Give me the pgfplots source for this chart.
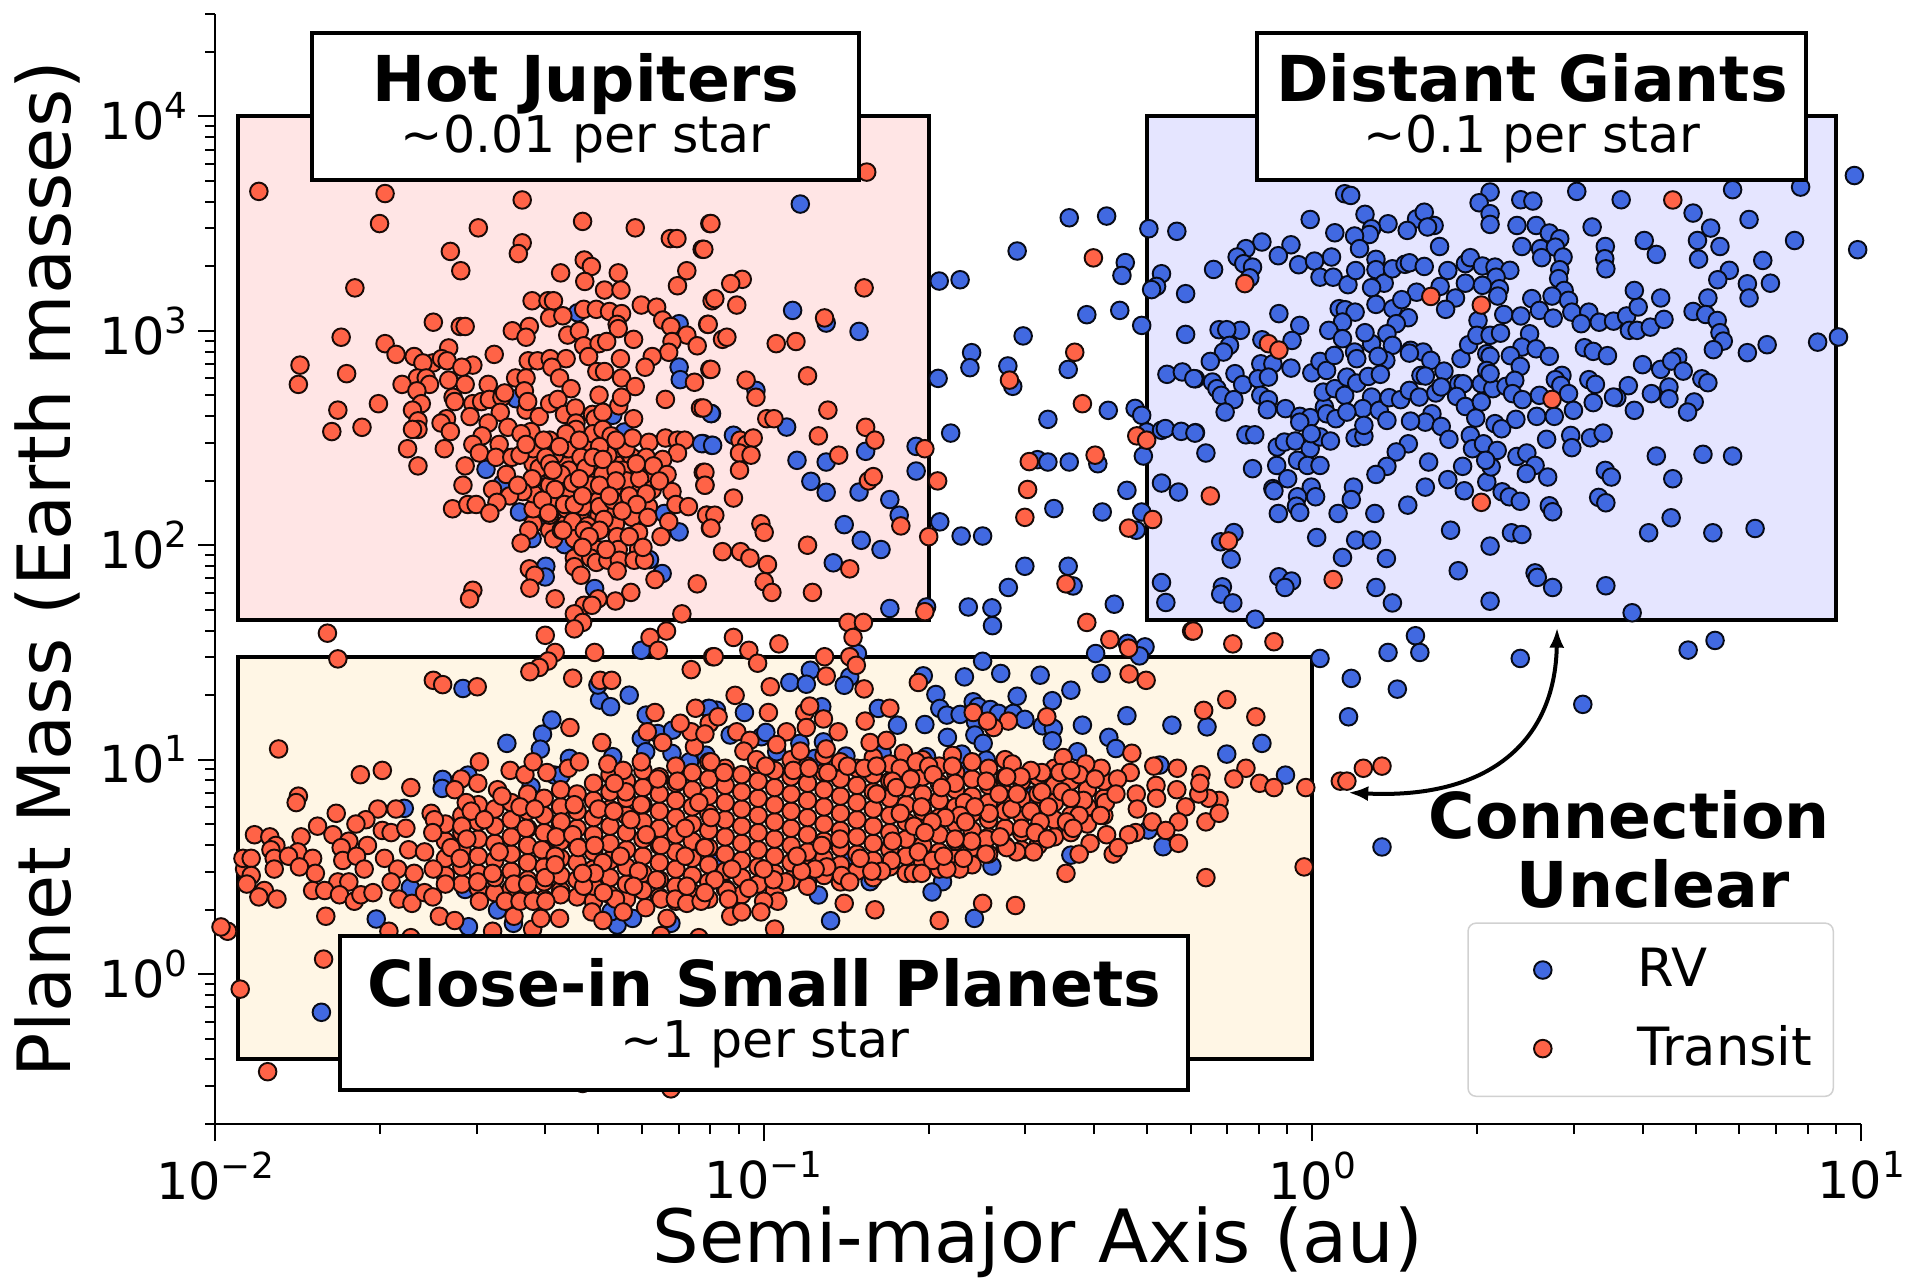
\documentclass[border=0pt]{standalone}
\usepackage{fontspec}
\setmainfont{DejaVu Sans}
\usepackage{pgfplots}
\pgfplotsset{compat=1.18}
\usetikzlibrary{arrows.meta}
\definecolor{rv}{RGB}{65,105,225}
\definecolor{tr}{RGB}{255,99,71}
\definecolor{ov}{RGB}{255,165,0}
\newcommand\tk[1]{10\raisebox{.41em}{\fontsize{10.2}{12}\selectfont #1}}
\begin{document}
\begin{tikzpicture}
\path[use as bounding box] (0,0) rectangle (19.11cm,-12.81cm);
\begin{axis}[
  at={(2.15cm,-11.24cm)}, anchor=south west, scale only axis,
  width=16.46cm, height=11.10cm,
  xmode=log, ymode=log, xmin=0.01, xmax=10, ymin=0.2, ymax=30000,
  axis x line*=bottom, axis y line*=left, axis line style={-,line width=.02cm,black},
  tick align=outside, major tick length=.17cm, minor tick length=.1cm,
  every tick/.style={black,line width=.02cm},
  xtick={0.01,0.1,1,10}, xticklabels={\tk{−2},\tk{−1},\tk{0},\tk{1}},
  ytick={1,10,100,1000,10000}, yticklabels={\tk{0},\tk{1},\tk{2},\tk{3},\tk{4}},
  minor xtick={0.02,0.03,0.04,0.05,0.06,0.07,0.08,0.09,0.2,0.3,0.4,0.5,0.6,0.7,0.8,0.9,2,3,4,5,6,7,8,9},
  minor ytick={0.2,0.3,0.4,0.5,0.6,0.7,0.8,0.9,2,3,4,5,6,7,8,9,20,30,40,50,60,70,80,90,200,300,400,500,600,700,800,900,2000,3000,4000,5000,6000,7000,8000,9000,20000,30000},
  tick label style={font=\fontsize{14.5}{18}\selectfont},
  yticklabel style={inner sep=0pt,xshift=-.1cm},
  xticklabel style={inner sep=0pt,yshift=-.1cm},
  xlabel={Semi-major Axis (au)}, ylabel={Planet Mass (Earth masses)},
  every axis x label/.style={at={(axis description cs:0.5,-0.125)},anchor=base,font=\fontsize{20.9}{24}\selectfont},
  every axis y label/.style={at={(axis description cs:-0.0877,0.5)},anchor=base,rotate=90,font=\fontsize{20.9}{24}\selectfont},
  legend style={at={(0.9836,0.0243)},anchor=south east,draw=black!18,line width=.015cm,rounded corners=.08cm,
    font=\fontsize{15}{18}\selectfont,inner xsep=.14cm,inner ysep=.18cm,row sep=.2cm},
  legend cell align=left,
  legend image code/.code={\draw[#1] plot coordinates {(0.6cm,0cm)};\path (0cm,0cm) (1.47cm,0cm);},
  clip=true,
]
\addplot[only marks,mark=*,mark size=2.5pt,mark options={draw=black!90!rv,fill=rv,line width=.55pt}]
 table[x expr=10^(\thisrow{lx}),y expr=10^(\thisrow{ly})]{
lx ly
.988 3.724
.994 3.378
.959 2.971
.921 2.947
.059 3.639
.07 3.631
.324 3.647
.304 3.597
.38 3.611
.402 3.605
.482 3.65
.563 3.611
.766 3.658
.89 3.67
.694 3.549
.796 3.519
.726 3.479
.702 3.421
.879 3.421
.743 3.393
.704 3.334
.821 3.328
.76 3.282
.739 3.238
.793 3.219
.835 3.222
.796 3.153
.721 3.153
.635 3.153
.694 3.09
.717 3.076
.738 3.048
.743 2.991
.749 2.952
.731 2.912
.793 2.898
.829 2.935
-.004 3.519
.096 3.543
.19 3.522
.204 3.553
.222 3.491
.21 3.484
.173 3.468
.138 3.499
.108 3.476
.104 3.449
.077 3.442
.041 3.457
-.092 3.414
-.039 3.401
-.121 3.383
-.137 3.344
-.062 3.35
-.125 3.313
-.109 3.297
-.18 3.286
-.114 3.247
-.025 3.308
.004 3.325
.035 3.344
.086 3.383
.014 3.25
.038 3.25
.065 3.215
.079 3.281
.116 3.333
.116 3.285
.131 3.222
.108 3.201
.146 3.289
.169 3.31
.177 3.317
.204 3.3
.232 3.393
.247 3.281
.233 3.207
.19 3.18
.261 3.153
.243 3.1
.279 3.313
.288 3.341
.31 3.302
.333 3.297
.36 3.282
.335 3.25
.279 3.222
.31 3.212
.341 3.196
.338 3.162
.324 3.546
.324 3.496
.373 3.491
.408 3.491
.432 3.456
.451 3.429
.382 3.393
.416 3.383
.443 3.39
.418 3.341
.457 3.344
.451 3.285
.449 3.243
.459 3.188
.437 3.162
.467 3.142
.4 3.15
.414 3.095
.349 3.076
.38 3.069
.439 3.059
.473 3.087
.504 3.087
.49 3.033
.523 3.04
.549 3.045
.573 3.069
.594 3.111
.587 3.188
.578 3.002
.592 3.002
.616 3.017
.641 3.053
.51 3.484
.534 3.393
.533 3.336
.535 3.289
.605 3.421
.627 3.356
.116 3.123
.147 3.103
.163 3.145
.175 3.061
.153 3.033
.136 2.986
.146 2.932
.108 2.94
.096 2.991
-.061 3.08
-.023 3.025
.049 3.103
.06 3.098
.078 3.087
.055 3.041
.03 3.002
.055 2.963
-.131 3.002
-.17 3.005
-.156 3.005
-.151 2.932
-.162 2.901
-.092 2.958
-.037 2.955
-.186 2.857
-.141 2.8
-.094 2.846
-.072 2.846
-.039 2.826
-.001 2.804
.014 2.857
.026 2.815
.04 2.885
.077 2.901
.081 2.87
.134 2.862
.12 2.881
.179 2.909
.202 2.901
.216 2.862
.177 2.896
.24 2.812
.271 2.87
.285 2.935
.302 3.048
.3 2.979
.324 2.979
.343 2.989
.396 2.986
.382 2.924
.408 2.916
.432 2.881
.361 2.884
.379 2.834
.318 2.893
.324 2.881
.496 2.921
.512 2.904
.538 2.884
.602 2.842
.635 2.82
.666 2.877
.655 2.859
.676 2.812
.71 2.776
.721 2.758
.576 2.744
.504 2.772
.516 2.75
.455 2.792
.443 2.772
.453 2.745
.467 2.707
.414 2.699
.512 2.665
.555 2.688
.549 2.691
.618 2.707
.65 2.738
.65 2.683
.696 2.668
.684 2.621
.587 2.629
.476 2.629
.409 2.601
.441 2.601
-.213 2.776
-.182 2.761
-.174 2.73
-.166 2.699
-.127 2.749
-.143 2.679
-.159 2.621
-.099 2.776
-.08 2.784
-.094 2.699
-.08 2.679
-.082 2.632
-.049 2.637
-.023 2.601
-.004 2.595
-.023 2.574
.022 2.644
.026 2.613
.043 2.59
.02 2.714
.041 2.73
.059 2.699
.063 2.784
.081 2.756
.102 2.787
.124 2.797
.108 2.691
.092 2.637
.063 2.621
.122 2.629
.136 2.582
.14 2.688
.161 2.679
.177 2.722
.195 2.691
.225 2.71
.198 2.792
.206 2.789
.235 2.738
.267 2.753
.275 2.753
.263 2.694
.279 2.647
.308 2.668
.308 2.753
.329 2.73
.353 2.741
.369 2.769
.365 2.707
.383 2.679
.318 2.815
.324 2.8
.218 2.613
.206 2.574
.179 2.579
.235 2.554
.249 2.494
.298 2.593
.333 2.567
.345 2.543
.371 2.587
-.213 2.525
-.121 2.515
-.105 2.515
-.194 2.43
-.109 2.357
-.065 2.372
-.064 2.458
-.051 2.481
-.031 2.486
-.004 2.45
.014 2.505
.033 2.486
-.002 2.52
.078 2.501
.094 2.508
.175 2.473
.153 2.435
.136 2.368
.116 2.33
.212 2.388
.288 2.512
.292 2.45
.312 2.473
.337 2.442
.274 2.368
.247 2.306
.318 2.295
.326 2.365
.316 2.396
.373 2.414
.391 2.43
.406 2.372
.39 2.334
.429 2.318
.427 2.494
.471 2.512
.473 2.455
.507 2.501
.53 2.523
.534 2.349
.545 2.318
.627 2.416
.712 2.424
.766 2.416
.657 2.31
-.027 2.396
-.009 2.372
.014 2.372
-.045 2.31
.075 2.271
-.002 2.271
-.072 2.264
.206 2.271
.094 2.559
-.07 2.254
-.027 2.226
.006 2.226
-.029 2.182
-.023 2.153
-.062 2.148
.071 2.213
.047 2.148
.114 2.148
.174 2.187
.277 2.254
.346 2.249
.359 2.226
.379 2.205
.522 2.223
.535 2.198
.432 2.184
.438 2.156
.654 2.128
.613 2.058
.73 2.058
.807 2.078
.252 2.07
.363 2.058
.382 2.05
.324 1.996
.266 1.881
.406 1.871
.41 1.85
.438 1.803
.535 1.811
.324 1.739
.583 1.685
.146 1.731
.116 1.803
.055 1.943
.135 1.938
.008 2.036
.079 2.024
.108 2.024
-.143 2.059
-.167 2.016
-.148 1.935
-.061 1.853
-.038 1.833
-.05 1.803
-.164 1.806
-.167 1.772
-.145 1.731
-.104 1.655
.188 1.578
.138 1.5
.196 1.5
.014 1.472
.379 1.472
.685 1.511
.734 1.556
.071 1.379
.155 1.329
.493 1.258
.066 1.2
-.192 1.153
-.092 1.076
-.156 1.026
-.049 .928
.127 .593
-.933 3.591
-.947 3.095
-.886 3.036
-.826 2.997
-1.014 2.722
-1.095 2.614
-.958 2.551
-1.055 2.513
-1.095 2.466
-1.11 2.474
-.939 2.396
-.886 2.388
-.814 2.438
-.722 2.461
-.722 2.346
-.914 2.298
-.886 2.247
-.826 2.248
-.77 2.213
-.443 3.527
-.375 3.535
-.298 3.476
-.247 3.464
-.538 3.372
-.341 3.318
-.347 3.258
-.275 3.266
-.284 3.207
-.293 3.192
-.231 3.173
-.68 3.232
-.642 3.238
-.411 3.075
-.351 3.095
-.311 3.025
-.231 2.983
-.527 2.976
-.621 2.898
-.624 2.828
-.555 2.836
-.546 2.741
-.445 2.82
-.265 2.797
-.237 2.808
-.216 2.777
-.682 2.778
-.482 2.587
-.372 2.629
-.323 2.638
-.311 2.606
-.659 2.523
-.302 2.528
-.275 2.536
-.268 2.544
-.239 2.531
-.214 2.523
-.308 2.416
-.501 2.399
-.482 2.388
-.443 2.388
-.391 2.38
-.338 2.256
-.275 2.29
-.244 2.248
-.753 2.14
-.853 2.096
-.822 2.023
-.786 1.98
-.873 1.918
-.77 1.705
-.703 1.712
-.679 2.109
-.64 2.043
-.601 2.043
-.471 2.171
-.383 2.155
-.311 2.155
-.321 2.07
-.524 1.902
-.445 1.902
-.554 1.803
-.436 1.81
-.627 1.712
-.584 1.708
-.583 1.625
-.361 1.725
-.275 1.826
-.267 1.733
-.395 1.495
-.337 1.542
-.305 1.526
-.315 1.484
-.385 1.402
-.601 1.459
-.568 1.402
-.496 1.394
-.634 1.386
-.709 1.391
-.915 1.417
-.952 1.36
-.922 1.352
-.843 1.386
-.853 1.347
-.829 1.495
-.686 1.304
-.538 1.296
-.474 1.275
-.44 1.324
-.338 1.205
-.256 1.161
-.419 1.161
-.706 1.164
-.756 1.161
-.791 1.239
-.679 1.239
-.666 1.208
-.642 1.211
-.618 1.27
-.609 1.247
-.587 1.234
-.572 1.216
-.545 1.216
-.524 1.188
-.614 1.177
-.615 1.115
-.665 1.104
-.6 1.076
-.492 1.158
-.472 1.146
-.474 1.088
-.371 1.104
-.358 1.052
-.428 1.037
-.594 .998
-.63 .955
-.639 1.026
-.703 1.014
-.784 1.032
-.85 1.017
-.906 1.006
-.934 1.076
-.891 1.083
-.976 1.037
-1.004 1.107
-1.061 1.115
-.996 1.127
-1.035 1.22
-1.101 1.239
-1.086 1.231
-.894 1.247
-.278 .975
-.299 .672
-.272 .594
-.44 .555
-.508 .835
-.472 .866
-.584 .504
-.674 .431
-.693 .383
-.9 .369
-.92 .431
-.806 .431
-.878 .249
-.616 .26
-.85 .547
-1.086 .516
-1.585 .908
-1.586 .866
-1.539 .928
-1.468 1.076
-1.403 1.119
-1.386 1.185
-1.407 1.049
-1.354 1.006
-1.424 .874
-1.655 .773
-1.381 .928
-1.369 .928
-1.644 .403
-1.706 .257
-1.538 .221
-1.544 .395
-1.485 .299
-1.456 .237
-1.267 .229
-1.278 .291
-1.239 .26
-1.169 .237
-1.214 1.208
-1.223 1.099
-1.193 1.122
-1.166 1.138
-1.215 1.037
-1.167 1.029
-1.275 1.014
-1.135 .99
-1.105 1.021
-1.099 1.239
-1.299 1.278
-1.279 1.247
-1.302 1.348
-1.245 1.301
-1.548 1.332
-1.806 -.178
-1.339 3.084
-1.154 3.033
-1.154 2.831
-1.152 2.772
-1.096 2.614
-1.113 2.474
-1.093 2.466
-1.506 2.354
-1.476 2.287
-1.226 2.342
-1.245 2.365
-1.451 2.683
-1.275 2.606
-1.254 2.528
-1.445 2.155
-1.4 2.12
-1.422 2.031
-1.363 2.003
-1.181 2.148
-1.154 2.062
-1.397 1.902
-1.398 1.852
-1.308 1.798
-1.185 1.868
-1.208 1.933
-1.327 2.132
-1.223 1.51
};
\addlegendentry{RV}
\addplot[only marks,mark=*,mark size=2.5pt,mark options={draw=black!90!tr,fill=tr,line width=.55pt}]
 table[x expr=10^(\thisrow{lx}),y expr=10^(\thisrow{ly})]{
lx ly
-1.58 .46
-1.58 .54
-1.58 .62
-1.58 .7
-1.55 .42
-1.55 .5
-1.55 .58
-1.55 .66
-1.55 .74
-1.52 .4
-1.52 .47
-1.52 .55
-1.52 .63
-1.52 .71
-1.52 .79
-1.49 .38
-1.49 .45
-1.49 .53
-1.49 .61
-1.49 .69
-1.49 .77
-1.46 .4
-1.46 .48
-1.46 .56
-1.46 .64
-1.46 .72
-1.46 .8
-1.43 .37
-1.43 .44
-1.43 .52
-1.43 .6
-1.43 .68
-1.43 .76
-1.43 .84
-1.4 .35
-1.4 .43
-1.4 .5
-1.4 .58
-1.4 .66
-1.4 .74
-1.4 .82
-1.37 .39
-1.37 .46
-1.37 .54
-1.37 .62
-1.37 .7
-1.37 .78
-1.37 .86
-1.34 .36
-1.34 .44
-1.34 .52
-1.34 .6
-1.34 .68
-1.34 .76
-1.34 .84
-1.31 .34
-1.31 .41
-1.31 .49
-1.31 .57
-1.31 .65
-1.31 .73
-1.31 .81
-1.31 .89
-1.28 .37
-1.28 .45
-1.28 .53
-1.28 .61
-1.28 .69
-1.28 .77
-1.28 .85
-1.28 .93
-1.25 .35
-1.25 .42
-1.25 .5
-1.25 .58
-1.25 .66
-1.25 .74
-1.25 .82
-1.25 .9
-1.22 .39
-1.22 .47
-1.22 .55
-1.22 .63
-1.22 .71
-1.22 .79
-1.22 .87
-1.22 .95
-1.19 .36
-1.19 .44
-1.19 .52
-1.19 .6
-1.19 .68
-1.19 .76
-1.19 .84
-1.19 .92
-1.16 .34
-1.16 .41
-1.16 .49
-1.16 .57
-1.16 .65
-1.16 .73
-1.16 .81
-1.16 .89
-1.16 .97
-1.13 .38
-1.13 .46
-1.13 .54
-1.13 .62
-1.13 .7
-1.13 .78
-1.13 .86
-1.13 .94
-1.1 .35
-1.1 .43
-1.1 .51
-1.1 .59
-1.1 .67
-1.1 .75
-1.1 .83
-1.1 .91
-1.1 .99
-1.07 .4
-1.07 .48
-1.07 .56
-1.07 .64
-1.07 .72
-1.07 .8
-1.07 .88
-1.07 .96
-1.04 .37
-1.04 .45
-1.04 .53
-1.04 .61
-1.04 .69
-1.04 .77
-1.04 .85
-1.04 .93
-1.01 .42
-1.01 .5
-1.01 .58
-1.01 .66
-1.01 .74
-1.01 .82
-1.01 .9
-1.01 .98
-.98 .39
-.98 .47
-.98 .55
-.98 .63
-.98 .71
-.98 .79
-.98 .87
-.98 .95
-.95 .44
-.95 .52
-.95 .6
-.95 .68
-.95 .76
-.95 .84
-.95 .92
-.95 1
-.92 .41
-.92 .49
-.92 .57
-.92 .65
-.92 .73
-.92 .81
-.92 .89
-.92 .97
-.89 .46
-.89 .54
-.89 .62
-.89 .7
-.89 .78
-.89 .86
-.89 .94
-.89 1.02
-.86 .43
-.86 .51
-.86 .59
-.86 .67
-.86 .75
-.86 .83
-.86 .91
-.86 .99
-.83 .48
-.83 .56
-.83 .64
-.83 .72
-.83 .8
-.83 .88
-.83 .96
-.8 .45
-.8 .53
-.8 .61
-.8 .69
-.8 .77
-.8 .85
-.8 .93
-.8 1.01
-.77 .5
-.77 .58
-.77 .66
-.77 .74
-.77 .82
-.77 .9
-.77 .98
-.74 .47
-.74 .55
-.74 .63
-.74 .71
-.74 .79
-.74 .87
-.74 .95
-.71 .52
-.71 .6
-.71 .68
-.71 .76
-.71 .84
-.71 .92
-.71 1
-.68 .49
-.68 .57
-.68 .65
-.68 .73
-.68 .81
-.68 .89
-.68 .97
-.65 .54
-.65 .62
-.65 .7
-.65 .78
-.65 .86
-.65 .94
-.62 .51
-.62 .59
-.62 .67
-.62 .75
-.62 .83
-.62 .91
-.62 .99
-.59 .56
-.59 .64
-.59 .72
-.59 .8
-.59 .88
-.59 .96
-.56 .6
-.56 .68
-.56 .76
-.56 .84
-.56 .92
-.56 1
-.53 .58
-.53 .66
-.53 .74
-.53 .82
-.53 .9
-.5 .6
-.5 .68
-.5 .76
-.5 .84
-.5 .92
-.47 .64
-.47 .72
-.47 .8
-.47 .88
-.47 .96
-.44 .66
-.44 .74
-.44 .82
-.44 .9
-.41 .7
-.41 .78
-.41 .86
-.41 .94
-.38 .74
-.38 .82
-.38 .9
-1.42 2.1
-1.42 2.17
-1.42 2.24
-1.42 2.31
-1.42 2.38
-1.42 2.45
-1.39 2.07
-1.39 2.14
-1.39 2.21
-1.39 2.28
-1.39 2.35
-1.39 2.42
-1.39 2.49
-1.36 2.1
-1.36 2.17
-1.36 2.24
-1.36 2.31
-1.36 2.38
-1.36 2.45
-1.33 2.04
-1.33 2.11
-1.33 2.18
-1.33 2.25
-1.33 2.32
-1.33 2.39
-1.33 2.46
-1.3 2.07
-1.3 2.14
-1.3 2.21
-1.3 2.28
-1.3 2.35
-1.3 2.42
-1.3 2.49
-1.27 2.1
-1.27 2.17
-1.27 2.24
-1.27 2.31
-1.27 2.38
-1.27 2.45
-1.24 2.13
-1.24 2.2
-1.24 2.27
-1.24 2.34
-1.24 2.41
-1.21 2.18
-1.21 2.25
-1.21 2.32
-1.21 2.39
-1.92 3.65
-1.69 3.64
-1.44 3.61
-1.7 3.5
-1.52 3.48
-1.33 3.51
-1.234 3.48
-1.17 3.43
-1.158 3.43
-1.098 3.5
-1.112 3.38
-1.571 3.37
-1.44 3.41
-1.447 3.36
-1.552 3.28
-1.327 3.33
-1.314 3.3
-1.37 3.27
-1.326 3.23
-1.265 3.27
-1.29 3.19
-1.26 3.19
-1.14 3.28
-1.157 3.21
-1.745 3.2
-1.422 3.14
-1.393 3.14
-1.383 3.14
-1.223 3.12
-1.195 3.11
-1.094 3.14
-1.328 3.1
-1.305 3.1
-1.281 3.09
-1.259 3.08
-1.39 3.06
-1.366 3.07
-1.184 3.05
-1.169 3.02
-1.102 3.03
-1.602 3.04
-1.553 3.02
-1.544 3.02
-1.77 2.97
-1.458 3
-1.427 3.02
-1.433 2.97
-1.267 3.03
-1.265 3.01
-1.357 2.98
-1.336 3
-1.328 2.93
-1.3 2.94
-1.286 2.95
-1.237 2.96
-1.14 2.98
-1.167 2.95
-1.121 2.93
-1.173 2.9
-1.69 2.94
-1.67 2.89
-1.574 2.92
-1.637 2.88
-1.603 2.85
-1.587 2.87
-1.577 2.86
-1.621 2.85
-1.53 2.84
-1.55 2.83
-1.491 2.89
-1.429 2.86
-1.412 2.86
-1.389 2.87
-1.36 2.87
-1.386 2.83
-1.319 2.88
-1.261 2.87
-1.203 2.88
-1.216 2.83
-1.304 2.81
-1.29 2.81
-1.098 2.82
-1.845 2.84
-1.848 2.75
-1.76 2.8
-1.631 2.78
-1.615 2.78
-1.574 2.77
-1.659 2.75
-1.609 2.75
-1.544 2.75
-1.632 2.72
-1.372 2.78
-1.351 2.73
-1.259 2.78
-1.234 2.74
-1.126 2.76
-1.502 2.75
-1.452 2.78
-1.433 2.78
-1.436 2.72
-1.702 2.66
-1.776 2.63
-1.787 2.53
-1.732 2.55
-1.566 2.69
-1.563 2.67
-1.624 2.66
-1.64 2.63
-1.63 2.58
-1.63 2.54
-1.64 2.54
-1.578 2.59
-1.588 2.57
-1.571 2.53
-1.649 2.45
-1.582 2.45
-1.63 2.37
-1.53 2.66
-1.514 2.67
-1.5 2.68
-1.477 2.69
-1.472 2.71
-1.535 2.6
-1.48 2.62
-1.502 2.57
-1.466 2.55
-1.433 2.63
-1.43 2.67
-1.409 2.6
-1.39 2.66
-1.375 2.68
-1.363 2.61
-1.343 2.64
-1.342 2.57
-1.3 2.7
-1.264 2.65
-1.259 2.69
-1.312 2.61
-1.307 2.59
-1.293 2.62
-1.237 2.59
-1.179 2.68
-1.115 2.64
-1.513 2.51
-1.53 2.47
-1.518 2.43
-1.482 2.47
-1.488 2.41
-1.459 2.41
-1.444 2.42
-1.424 2.53
-1.442 2.52
-1.401 2.49
-1.354 2.51
-1.355 2.45
-1.381 2.42
-1.319 2.45
-1.311 2.52
-1.293 2.54
-1.278 2.51
-1.284 2.42
-1.251 2.45
-1.239 2.5
-1.209 2.48
-1.179 2.5
-1.157 2.49
-1.144 2.49
-1.157 2.43
-1.214 2.41
-1.184 2.4
-1.201 2.37
-1.176 2.33
-1.257 2.35
-1.25 2.3
-1.226 2.31
-1.203 2.26
-1.167 2.25
-1.11 2.34
-1.107 2.28
-1.16 2.19
-1.137 2.18
-1.544 2.37
-1.469 2.33
-1.409 2.36
-1.355 2.35
-1.369 2.33
-1.316 2.32
-1.293 2.33
-1.422 2.31
-1.439 2.25
-1.463 2.23
-1.494 2.26
-1.548 2.28
-1.38 2.26
-1.348 2.29
-1.315 2.28
-1.275 2.26
-1.245 2.23
-1.214 2.24
-1.403 2.21
-1.363 2.19
-1.345 2.19
-1.299 2.18
-1.275 2.21
-1.231 2.19
-1.567 2.17
-1.539 2.19
-1.524 2.19
-1.486 2.2
-1.448 2.28
-1.397 2.41
-1.333 2.41
-1.299 2.46
-1.269 2.49
-1.342 2.54
-1.36 2.52
-1.39 2.38
-1.324 2.36
-1.269 2.35
-1.232 2.38
-1.19 2.3
-1.433 2.47
-1.372 2.46
-1.336 2.49
-1.311 2.41
-1.293 2.4
-1.384 2.35
-1.336 2.31
-1.299 2.28
-1.269 2.3
-1.281 2.23
-1.33 2.23
-1.499 2.15
-1.392 2.15
-1.258 2.16
-1.211 2.13
-1.103 2.14
-1.173 2.11
-1.097 2.08
-1.348 2.11
-1.321 2.09
-1.291 2.12
-1.428 2.07
-1.442 2.01
-1.383 2.03
-1.369 2.07
-1.345 2.03
-1.327 2.07
-1.299 2.07
-1.267 2.04
-1.228 2.06
-1.187 2.04
-1.302 1.98
-1.228 1.98
-1.265 1.98
-1.345 1.94
-1.315 1.94
-1.345 1.9
-1.333 1.86
-1.305 1.92
-1.284 1.93
-1.263 1.93
-1.236 1.93
-1.217 1.93
-1.267 1.88
-1.198 1.84
-1.121 1.82
-1.427 1.89
-1.417 1.86
-1.426 1.8
-1.53 1.79
-1.536 1.75
-1.38 1.75
-1.242 1.78
-1.27 1.74
-1.302 1.75
-1.327 1.72
-1.313 1.72
-1.345 1.68
-1.33 1.64
-1.345 1.61
-1.149 1.68
-1.177 1.6
-1.207 1.57
-1.192 1.51
-1.398 1.58
-1.308 1.5
-1.38 1.5
-1.393 1.46
-1.409 1.43
-1.426 1.41
-1.795 1.59
-1.776 1.47
-1.093 1.48
-1.132 1.42
-1.348 1.38
-1.298 1.37
-1.277 1.37
-1.602 1.37
-1.585 1.35
-1.522 1.34
-1.318 2.04
-1.287 1.98
-1.245 2.04
-1.22 1.99
-1.33 1.99
-1.366 2.07
-1.096 3.5
-1.109 3.38
-1.039 3.24
-1.06 3.22
-1.089 3.15
-1.049 3.12
-1.101 3.03
-1.075 2.96
-1.067 2.97
-1.096 2.82
-1.032 2.77
-1.014 2.69
-.994 2.59
-.981 2.59
-1.11 2.64
-.883 2.63
-.9 2.51
-.814 2.55
-.797 2.49
-.863 2.42
-1.043 2.49
-1.031 2.47
-1.019 2.5
-1.044 2.43
-1.023 2.42
-1.044 2.35
-1.107 2.34
-1.107 2.28
-1.055 2.22
-.977 2.94
-.941 2.95
-.92 2.79
-.817 3.2
-.889 3.06
-.812 3.74
-.809 2.3
-.8 2.32
-.706 2.45
-.683 2.3
-.399 3.34
-.433 2.9
-.552 2.77
-.419 2.66
-.32 2.51
-.516 2.39
-.396 2.42
-.519 2.26
-.302 2.49
-1.104 2.14
-1.089 2.14
-1.096 2.08
-1.005 2.1
-.999 2.06
-1.075 1.97
-1.042 1.97
-1.025 1.94
-.993 1.91
-.92 2
-.999 1.83
-.985 1.78
-.911 1.78
-.843 1.89
-.75 2.09
-.699 2.04
-.524 2.13
-.335 2.08
-.449 1.82
-.411 1.64
-.369 1.56
-.335 1.52
-.291 2.12
-.22 1.6
-1.055 1.57
-1.027 1.51
-.972 1.54
-.846 1.64
-.818 1.64
-.837 1.57
-.889 1.48
-.843 1.48
-1.09 1.48
-1.011 1.45
-.831 1.44
-.886 1.39
-.988 1.34
-.706 1.69
-.334 1.4
-.303 1.37
-.718 1.36
-.817 1.33
-1.052 1.3
.657 3.61
-.123 3.22
.216 3.16
.308 3.12
-.08 2.94
-.061 2.91
.437 2.68
-.186 2.23
.308 2.2
-.153 2.02
.038 1.84
-.217 1.6
-.145 1.54
-.07 1.55
-.156 1.28
-.198 1.23
-.103 1.2
-.121 .96
-.143 .91
-.203 .93
-.096 .89
-.07 .87
-.012 .87
-.17 .81
-.189 .82
-.207 .84
.093 .96
.127 .97
.051 .9
.063 .9
-.194 .71
-.194 .45
-.015 .5
-.17 .75
-1.884 1.05
-1.735 .93
-1.695 .95
-1.643 .87
-1.518 .99
-1.551 .91
-1.563 .86
-1.521 .89
-1.462 .95
-1.435 .93
-1.42 .99
-1.395 .94
-1.356 .96
-1.336 .99
-1.353 1.15
-1.295 1.08
-1.284 .98
-1.223 .99
-1.256 .95
-1.212 1.13
-1.184 1.08
-1.126 1.06
-1.132 1.13
-1.152 1.17
-1.099 1.17
-1.124 1.24
-1.198 1.22
-1.848 .83
-1.852 .8
-1.779 .75
-1.703 .77
-1.67 .77
-1.606 .75
-1.6 .72
-1.603 .66
-1.485 .86
-1.477 .83
-1.542 .8
-1.533 .76
-1.928 .65
-1.9 .64
-1.889 .6
-1.813 .69
-1.843 .64
-1.785 .65
-1.725 .72
-1.743 .7
-1.695 .67
-1.679 .66
-1.652 .68
-1.756 .62
-1.77 .59
-1.722 .6
-1.647 .58
-1.618 .57
-1.898 .58
-1.892 .54
-1.892 .49
-1.849 .57
-1.822 .54
-1.866 .55
-1.846 .5
-1.767 .53
-1.742 .55
-1.691 .54
-1.667 .49
-1.637 .47
-1.728 .49
-1.817 .47
-1.776 .43
-1.756 .43
-1.679 .43
-1.602 .49
-1.946 .49
-1.949 .54
-1.934 .54
-1.934 .46
-1.942 .42
-1.91 .39
-1.92 .36
-1.887 .35
-1.822 .39
-1.8 .39
-1.773 .37
-1.746 .34
-1.734 .37
-1.712 .38
-1.665 .35
-1.641 .33
-1.618 .38
-1.603 .36
-1.58 .42
-1.591 .27
-1.563 .25
-1.798 .27
-1.683 .2
-1.643 .17
-1.494 .2
-1.421 .21
-1.406 .26
-1.372 .26
-1.455 .27
-1.518 .34
-1.521 .43
-1.471 .34
-1.444 .34
-1.42 .34
-1.37 .37
-1.397 .34
-1.455 .42
-1.43 .42
-1.313 .29
-1.293 .25
-1.27 .35
-1.256 .29
-1.215 .31
-1.187 .35
-1.161 .35
-1.14 .33
-1.114 .34
-1.176 .26
-1.187 .18
-1.118 .17
-1.802 .07
-1.954 -.07
-1.977 .2
-1.989 .22
-1.904 -.455
-1.169 -.535
-1.33 -.51
-1.55 .69
-1.509 .72
-1.541 .63
-1.57 .59
-1.553 .54
-1.444 .78
-1.417 .77
-1.433 .68
-1.369 .71
-1.345 .79
-1.378 .64
-1.348 .65
-1.338 .59
-1.308 .6
-1.301 .77
-1.273 .76
-1.242 .72
-1.251 .85
-1.272 .89
-1.223 .79
-1.157 .9
-1.193 .91
-1.143 .68
-1.214 .65
-1.187 .6
-1.143 .55
-1.096 .73
-1.108 .59
-1.118 .8
-1.482 .57
-1.404 .58
-1.38 .55
-1.261 .55
-1.293 .52
-1.228 .48
-1.308 .47
-1.195 .44
-1.14 .41
-1.237 .41
-1.292 .38
-1.328 .41
-1.494 .47
-1.33 .47
-1.398 .45
-1.38 .51
-.991 1.22
-.925 1.22
-.916 1.25
-.891 1.19
-.922 1.15
-.815 1.18
-.77 1.24
-.864 1.13
-.958 1.13
-1.049 1.13
-1.025 1.09
-1.099 1.17
-1.083 1.2
-1.107 1.12
-.976 1.07
-1.036 1.04
-.933 1.04
-.886 1.05
-.806 1.08
-.776 1.09
-1.013 1
-.996 .97
-1.096 .99
-1.072 .94
-.946 .95
-.917 .96
-.883 .94
-.847 .97
-.817 .96
-.794 .97
-.745 1.03
-.751 .96
-.722 .99
-.699 .97
-.691 .93
-.656 1.02
-.656 .97
-.618 1.22
-.554 1.18
-.581 1.15
-.592 1.18
-.484 1.2
-.454 1.01
-.329 1.03
-.246 .96
-.289 .97
-.332 .94
-.385 .96
-.413 .98
-.425 .93
-.46 .94
-.44 .95
-.396 .91
-.493 .94
-.513 .95
-.547 .98
-.531 .92
-.557 .92
-.594 .9
-.651 .89
-.676 .87
-.732 .91
-.765 .9
-.794 .84
-.758 .87
-.355 .91
-.493 .85
-.456 .85
-.417 .81
-.44 .82
-.377 .8
-.358 .84
-.321 .84
-.285 .88
-.284 .82
-.319 .77
-.247 .86
-.231 .78
-.244 .71
-.292 .71
-.267 .67
-.322 .66
-.335 .65
-.375 .65
-.425 .74
-.448 .71
-.436 .68
-.386 .74
-.405 .61
-.425 .56
-.449 .47
-.363 .56
-.354 .59
-.244 .61
-.481 .78
-.513 .76
-.548 .77
-.496 .71
-.53 .68
-.505 .66
-.483 .63
-.508 .57
-.539 .57
-.557 .59
-.594 .63
-.621 .62
-.651 .63
-.569 .64
-.571 .84
-.538 .84
-.589 .75
-.634 .8
-.615 .78
-.642 .74
-.632 .71
-.669 .73
-.693 .71
-.712 .78
-.726 .69
-.751 .75
-.706 .66
-.765 .62
-.718 .57
-.692 .53
-.643 .49
-.666 .49
-.595 .56
-.636 .54
-.672 .55
-.767 .53
-.785 .48
-.803 .48
-.727 .47
-.712 .47
-.858 .46
-.843 .43
-.885 .5
-.906 .49
-.931 .48
-.96 .43
-.824 .54
-.861 .63
-.894 .6
-.939 .55
-.982 .44
-.974 .34
-1 .34
-1.027 .4
-1.067 .39
-1.089 .44
-1.058 .49
-1 .49
-1.064 .35
-1.06 .27
-1.04 .29
-1.005 .29
-.98 .21
-.853 .33
-.797 .3
-.601 .33
-.541 .32
-.68 .25
-1.107 .38
-1.107 .59
-.205 .89
};
\addlegendentry{Transit}
\draw[line width=.04cm,fill=red,fill opacity=.1,draw opacity=1] (axis cs:0.011,45) rectangle (axis cs:0.2,10000);
\draw[line width=.04cm,fill=blue,fill opacity=.1,draw opacity=1] (axis cs:0.5,45) rectangle (axis cs:9,10000);
\draw[line width=.04cm,fill=ov,fill opacity=.1,draw opacity=1] (axis cs:0.011,0.4) rectangle (axis cs:1,30);
\end{axis}
\begin{scope}[x=.01cm,y=-.01cm]
\draw[line width=.04cm,fill=white] (312,33) rectangle (859,180);
\draw[line width=.04cm,fill=white] (1258,33) rectangle (1807,180);
\draw[line width=.04cm,fill=white] (340,937) rectangle (1189,1091);
\node[anchor=base,inner sep=0pt,font=\fontsize{18}{20}\selectfont\bfseries] at (586,102) {Hot Jupiters};
\node[anchor=base,inner sep=0pt,font=\fontsize{14.4}{17}\selectfont] at (586,153) {\textasciitilde0.01 per star};
\node[anchor=base,inner sep=0pt,font=\fontsize{18}{20}\selectfont\bfseries] at (1533,102) {Distant Giants};
\node[anchor=base,inner sep=0pt,font=\fontsize{14.4}{17}\selectfont] at (1533,153) {\textasciitilde0.1 per star};
\node[anchor=base,inner sep=0pt,font=\fontsize{18}{20}\selectfont\bfseries] at (765,1007) {Close-in Small Planets};
\node[anchor=base,inner sep=0pt,font=\fontsize{14.4}{17}\selectfont] at (765,1058) {\textasciitilde1 per star};
\node[anchor=base,inner sep=0pt,font=\fontsize{18}{20}\selectfont\bfseries] at (1630,839) {Connection};
\node[anchor=base,inner sep=0pt,font=\fontsize{18}{20}\selectfont\bfseries] at (1654,908) {Unclear};
\draw[line width=.04cm,{Latex[length=.2cm,width=.15cm]}-{Latex[length=.2cm,width=.15cm]}] (1349,793) .. controls (1486,800) and (1556,745) .. (1558,628);
\end{scope}
\end{tikzpicture}
\end{document}
